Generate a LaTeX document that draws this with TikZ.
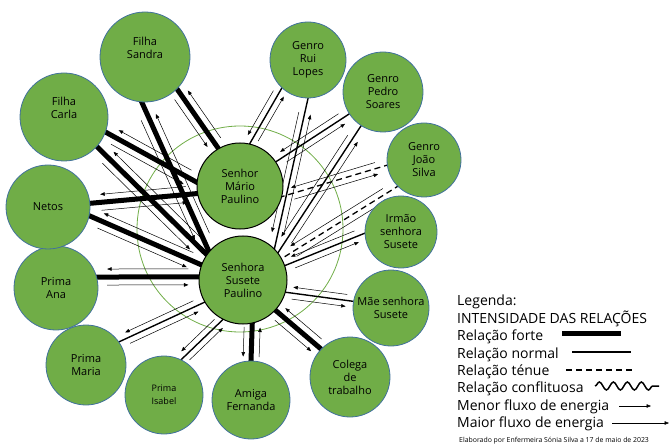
\documentclass[tikz,border=0pt]{standalone}
\usepackage{fontspec}
\setmainfont{Open Sans}
\usepackage{tikz}
\usetikzlibrary{arrows.meta, calc, backgrounds, decorations.pathmorphing}
\definecolor{verdeno}{RGB}{112, 173, 71}
\definecolor{bordaazul}{RGB}{65, 113, 156}

% relation line plus one energy-flow arrow in each direction
\newcommand{\relacao}[4]{%
  \path (#3) -- (#4) coordinate[pos=.1] (ini) coordinate[pos=.9] (fim);
  \draw[#1, shorten <=-3pt, shorten >=-3pt] (#3) -- (#4);
  \draw[fluxo] ($(ini)!#2!-90:(fim)$) -- ($(fim)!#2!90:(ini)$);
  \draw[fluxo] ($(fim)!#2!-90:(ini)$) -- ($(ini)!#2!90:(fim)$);
}

\begin{document}
\begin{tikzpicture}[x=1pt, y=-1pt,
    pessoa/.style={circle, draw=bordaazul, fill=verdeno, line width=0.8pt, inner sep=0.5pt, align=center, font=\fontsize{11}{13}\selectfont},
    central/.style={pessoa, draw=black, line width=1pt},
    relforte/.style={line width=5pt},
    relnormal/.style={line width=1.4pt},
    reltenue/.style={line width=1.3pt, dash pattern=on 6pt off 4pt},
    fluxo/.style={line width=0.5pt, -{Triangle[length=4.5pt, width=3.5pt]}}
]
    \useasboundingbox (0,0) rectangle (671,446);

    % Nodes
    \node[central, minimum size=86pt] (mario) at (240,186) {Senhor\\Mário\\Paulino};
    \node[central, minimum size=88pt] (susete) at (243,280) {Senhora\\Susete\\Paulino};

    \node[pessoa, minimum size=90pt] (sandra) at (145,57) {Filha\\Sandra\\[6pt]};
    \node[pessoa, minimum size=76pt] (rui) at (308,60) {Genro\\Rui\\Lopes};
    \node[pessoa, minimum size=80pt] (pedro) at (383,92) {Genro\\Pedro\\Soares};
    \node[pessoa, minimum size=74pt] (joao) at (424,160) {Genro\\João\\Silva};
    \node[pessoa, minimum size=72pt] (irmao) at (401,232) {Irmão\\senhora\\Susete};
    \node[pessoa, minimum size=76pt] (mae) at (391,308) {Mãe senhora\\Susete};
    \node[pessoa, minimum size=80pt] (colega) at (350,377) {Colega\\de\\trabalho};
    \node[pessoa, minimum size=78pt] (fernanda) at (251,400) {Amiga\\Fernanda};
    \node[pessoa, minimum size=78pt, font=\fontsize{9}{13}\selectfont] (isabel) at (164,395) {Prima\\Isabel};
    \node[pessoa, minimum size=80pt] (maria) at (86,365) {Prima\\Maria};
    \node[pessoa, minimum size=84pt] (ana) at (56,288) {Prima\\Ana};
    \node[pessoa, minimum size=84pt] (netos) at (48,207) {Netos};
    \node[pessoa, minimum size=88pt] (carla) at (64,117) {Filha\\Carla\\[6pt]};

    % Edges
    \begin{scope}[on background layer]
        \draw[verdeno, line width=0.8pt] (240,229) circle[radius=103];

        \relacao{relforte}{8pt}{sandra.315}{mario.120}
        \relacao{relforte}{8pt}{carla.340}{mario.175}
        \relacao{relforte}{8pt}{netos.5}{mario.190}
        \relacao{relnormal}{6pt}{rui.227}{mario.77}
        \relacao{relnormal}{6pt}{pedro.213}{mario.34}
        \relacao{reltenue}{6pt}{joao.188}{mario.346}

        \relacao{relforte}{8pt}{sandra.266}{susete.140}
        \relacao{relforte}{8pt}{carla.318}{susete.145}
        \relacao{relforte}{8pt}{netos.348}{susete.160}
        \relacao{relforte}{8pt}{ana.15}{susete.176}
        \relacao{relnormal}{6pt}{maria.35}{susete.210}
        \relacao{relnormal}{6pt}{isabel.64}{susete.243}
        \relacao{relforte}{8pt}{fernanda.90}{susete.282}
        \relacao{relforte}{8pt}{colega.136}{susete.317}
        \relacao{relnormal}{6pt}{mae.170}{susete.344}
        \relacao{relnormal}{6pt}{irmao.182}{susete.19}
        \relacao{reltenue}{6pt}{joao.225}{susete.29}
        \relacao{relnormal}{6pt}{pedro.237}{susete.38}
        \relacao{relnormal}{6pt}{rui.270}{susete.45}
    \end{scope}

    % Legend
    \node[anchor=north west, align=left, inner sep=0pt, font=\fontsize{14}{17.4}\selectfont] (legenda) at (457,295)
        {Legenda:\\INTENSIDADE DAS RELAÇÕES\\Relação forte\\Relação normal\\Relação ténue\\Relação conflituosa\\Menor fluxo de energia\\Maior fluxo de energia};
    \draw[relforte] (562,333) -- (621,333);
    \draw[relnormal] (572,352) -- (631,352);
    \draw[reltenue] (566,370) -- (633,370);
    \draw[line width=1.5pt, decorate, decoration={snake, amplitude=4pt, segment length=14pt}] (595,386) -- (659,386);
    \draw[fluxo] (619,406) -- (651,406);
    \draw[fluxo] (612,423) -- (669,423);

    \node[anchor=west, inner sep=0pt, font=\fontsize{6.9}{8}\selectfont] (autoria) at (459,441)
        {Elaborado por Enfermeira Sónia Silva a 17 de maio de 2023};
\end{tikzpicture}
\end{document}
